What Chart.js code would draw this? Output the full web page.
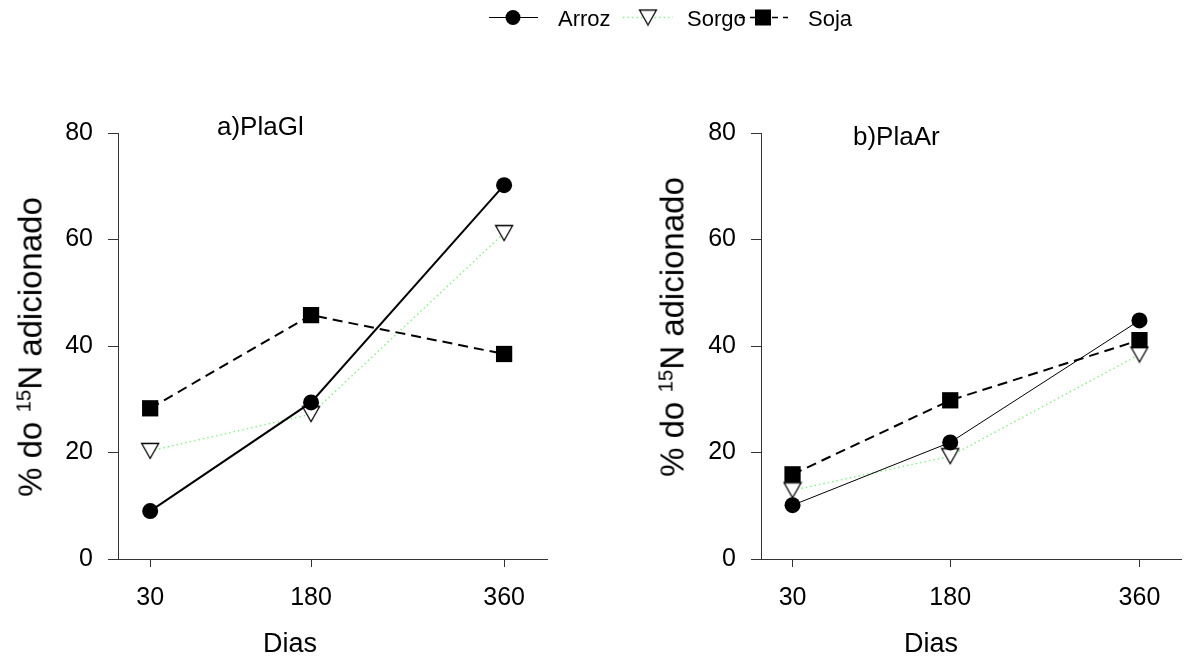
<!DOCTYPE html>
<html>
<head>
<meta charset="utf-8">
<script src="https://cdn.jsdelivr.net/npm/chart.js@4/dist/chart.umd.min.js"></script>
<style>
  body { margin: 0; background: #fff; }
  #page { position: relative; width: 1193px; height: 662px; overflow: hidden; font-family: 'Liberation Sans', Arial, sans-serif; color: #000; }
  canvas { position: absolute; }
  .txt { position: absolute; white-space: nowrap; line-height: 1; }
  .ytitle { position: absolute; white-space: nowrap; line-height: 1; font-size: 33px; transform: translate(-50%, -50%) rotate(-90deg); }
  .ytitle sup { font-size: 0.62em; vertical-align: 0.55em; line-height: 0; }
</style>
</head>
<body>
<div id="page">
  <canvas id="legend" width="1193" height="36" style="left:0;top:0"></canvas>
  <span class="txt" style="left:558px;top:8px;font-size:22px">Arroz</span>
  <span class="txt" style="left:687px;top:8px;font-size:22px">Sorgo</span>
  <span class="txt" style="left:808px;top:8px;font-size:22px">Soja</span>

  <canvas id="panelA" width="580" height="562" style="left:0;top:100px"></canvas>
  <canvas id="panelB" width="613" height="562" style="left:580px;top:100px"></canvas>

  <span class="txt" style="left:217px;top:113px;font-size:26px">a)PlaGl</span>
  <span class="txt" style="left:853px;top:123px;font-size:26px">b)PlaAr</span>

  <div class="ytitle" style="left:30px;top:347px">% do <sup>15</sup>N adicionado</div>
  <div class="ytitle" style="left:672px;top:327px">% do <sup>15</sup>N adicionado</div>

  <span class="txt" style="left:290px;top:630px;font-size:27px;transform:translateX(-50%)">Dias</span>
  <span class="txt" style="left:931px;top:630px;font-size:27px;transform:translateX(-50%)">Dias</span>
</div>
<script>
// --- Dados (% do 15N adicionado) ---
const days = [30, 180, 360];
const xTicks = [30, 180, 360];
const yTicks = [0, 20, 40, 60, 80];

// a) PlaGl
const arrozA = [9.0, 29.4, 70.2];
const sorgoA = [20.3, 27.2, 61.2];
const sojaA = [28.3, 45.8, 38.5];

// b) PlaAr
const arrozB = [10.1, 21.9, 44.8];
const sorgoB = [12.9, 19.3, 38.4];
const sojaB = [15.9, 29.8, 41.1];

Chart.defaults.font.family = "'Liberation Sans', Arial, sans-serif";
Chart.defaults.color = '#000';

const SORGO_GREEN = '#90ee90';

// Triângulo aberto apontando para baixo, centrado na caixa (como no SigmaPlot).
function makeTriangle() {
  const c = document.createElement('canvas');
  c.width = 20; c.height = 18;
  const g = c.getContext('2d');
  g.beginPath();
  g.moveTo(1.5, 1.5);
  g.lineTo(18.5, 1.5);
  g.lineTo(10, 16.5);
  g.closePath();
  g.fillStyle = '#fff';
  g.fill();
  g.lineWidth = 1.3;
  g.strokeStyle = '#000';
  g.stroke();
  return c;
}
const triangle = makeTriangle();

const toXY = (arr) => arr.map((v, i) => ({ x: days[i], y: v }));

function panel(id, arroz, sorgo, soja, opt) {
  return new Chart(document.getElementById(id), {
    type: 'line',
    data: {
      datasets: [
        {
          label: 'Arroz',
          data: toXY(arroz),
          borderColor: '#000',
          borderWidth: opt.arrozWidth,
          pointStyle: 'circle',
          pointRadius: 8,
          pointBackgroundColor: '#000',
          pointBorderColor: '#000',
          pointBorderWidth: 0,
          order: 0,
          clip: false,
        },
        {
          label: 'Sorgo',
          data: toXY(sorgo),
          borderColor: SORGO_GREEN,
          borderWidth: 1.5,
          borderDash: [1.5, 3],
          pointStyle: triangle,
          pointRadius: 9,
          order: 2,
          clip: false,
        },
        {
          label: 'Soja',
          data: toXY(soja),
          borderColor: '#000',
          borderWidth: 2,
          borderDash: [10, 6],
          pointStyle: 'rect',
          pointRadius: 11.5,
          pointBackgroundColor: '#000',
          pointBorderColor: '#000',
          pointBorderWidth: 0,
          order: 1,
          clip: false,
        },
      ],
    },
    options: {
      responsive: false,
      animation: false,
      events: [],
      layout: { padding: { top: 33, right: opt.padRight, bottom: 0, left: 0 } },
      plugins: { legend: { display: false }, tooltip: { enabled: false } },
      scales: {
        x: {
          type: 'linear',
          min: 0,
          max: 400,
          afterBuildTicks: (s) => { s.ticks = xTicks.map((v) => ({ value: v })); },
          afterFit: (s) => { s.height = 103; },
          ticks: { autoSkip: false, padding: 16, font: { size: 25 } },
          grid: { drawOnChartArea: false, tickLength: 8, color: '#333' },
          border: { color: '#333', width: 1 },
        },
        y: {
          min: 0,
          max: 80,
          afterBuildTicks: (s) => { s.ticks = yTicks.map((v) => ({ value: v })); },
          afterFit: (s) => { s.width = opt.yWidth; },
          ticks: { padding: 15, font: { size: 25 } },
          grid: { drawOnChartArea: false, tickLength: 10, color: '#333' },
          border: { color: '#333', width: 1 },
        },
      },
    },
  });
}

panel('panelA', arrozA, sorgoA, sojaA, { arrozWidth: 2, yWidth: 118, padRight: 33 });
panel('panelB', arrozB, sorgoB, sojaB, { arrozWidth: 1, yWidth: 181, padRight: 3 });

// --- Legenda (amostras de linha + marcador) ---
(function drawLegend() {
  const ctx = document.getElementById('legend').getContext('2d');
  const y = 17.5;
  function seg(x0, x1, color, width, dash) {
    ctx.save();
    ctx.strokeStyle = color;
    ctx.lineWidth = width;
    ctx.setLineDash(dash);
    ctx.beginPath();
    ctx.moveTo(x0, y);
    ctx.lineTo(x1, y);
    ctx.stroke();
    ctx.restore();
  }
  // Arroz
  seg(489, 538, '#000', 1, []);
  ctx.fillStyle = '#000';
  ctx.beginPath();
  ctx.arc(513, y, 7.5, 0, Math.PI * 2);
  ctx.fill();
  // Sorgo
  seg(623, 673, SORGO_GREEN, 1.5, [1.5, 3]);
  ctx.drawImage(triangle, 648 - triangle.width / 2, y - triangle.height / 2);
  // Soja
  seg(739, 788, '#000', 1.5, [6, 5]);
  ctx.fillStyle = '#000';
  ctx.fillRect(755, y - 8, 16, 16);
})();
</script>
</body>
</html>
